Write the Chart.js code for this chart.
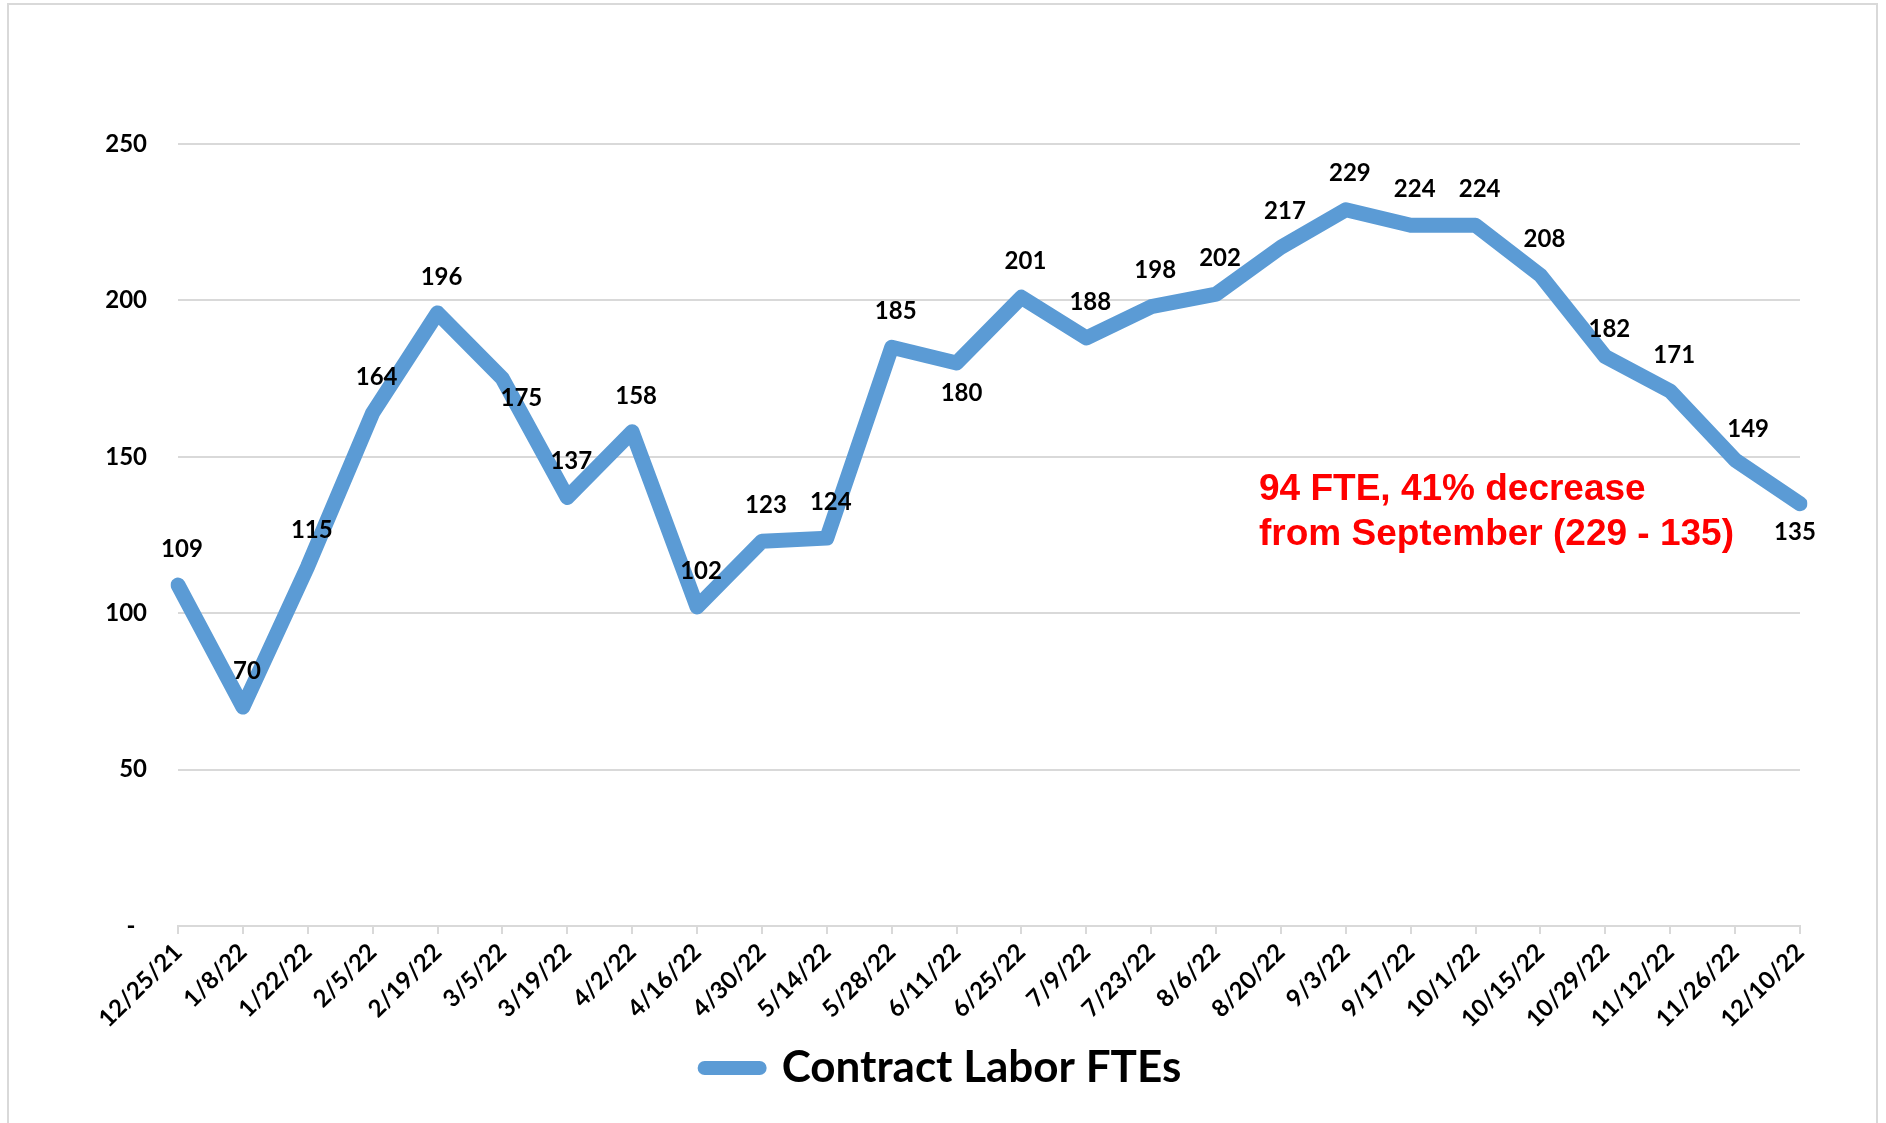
<!DOCTYPE html>
<html>
<head>
<meta charset="utf-8">
<script src="https://cdn.jsdelivr.net/npm/chart.js@4.4.1/dist/chart.umd.min.js"></script>
<style>
  html, body { margin: 0; padding: 0; background: #fff; }
  #wrap { position: relative; width: 1886px; height: 1123px; overflow: hidden; }
  #frame { position: absolute; left: 7px; top: 3px; width: 1871px; height: 1130px; border: 2px solid #d9d9d9; box-sizing: border-box; pointer-events: none; }
  canvas { position: absolute; left: 0; top: 0; }
</style>
</head>
<body>
<div id="wrap">
  <canvas id="chart" width="1886" height="1123"></canvas>
  <div id="frame"></div>
</div>
<script>
// Data
const weeks = ['12/25/21', '1/8/22', '1/22/22', '2/5/22', '2/19/22', '3/5/22', '3/19/22', '4/2/22', '4/16/22',
    '4/30/22', '5/14/22', '5/28/22', '6/11/22', '6/25/22', '7/9/22', '7/23/22', '8/6/22', '8/20/22', '9/3/22',
    '9/17/22', '10/1/22', '10/15/22', '10/29/22', '11/12/22', '11/26/22', '12/10/22'];
const contractFtes = [109, 70, 115, 164, 196, 175, 137, 158, 102, 123, 124, 185, 180, 201, 188, 198, 202, 217, 229,
    224, 224, 208, 182, 171, 149, 135];
const yTicks = [0, 50, 100, 150, 200, 250];
const seriesName = 'Contract Labor FTEs';
const noteLines = ['94 FTE, 41% decrease', 'from September (229 - 135)'];

// where each value label sits relative to its point
// a = above, b = below, r = right/below, n = nudged (10/29), s = shifted right (11/26), e = end
const labelSpots = ['a', 'a', 'a', 'a', 'a', 'r', 'a', 'a', 'a', 'a', 'a', 'a', 'b', 'a', 'a', 'a', 'a', 'a', 'a',
    'a', 'a', 'a', 'n', 'a', 's', 'e'];
const spotOffsets = { a: [4, -36], b: [5, 30], r: [19, 20], n: [4, -27], s: [13, -31], e: [-5, 29] };

const BLUE = '#5b9bd5';
const GRID = '#d9d9d9';
const FONT = 'Lato, "Open Sans", sans-serif';

const valueLabels = {
    id: 'valueLabels',
    afterDatasetsDraw(chart) {
        const { ctx } = chart;
        const meta = chart.getDatasetMeta(0);
        ctx.save();
        ctx.font = 'bold 24px ' + FONT;
        ctx.fillStyle = '#000';
        ctx.textAlign = 'center';
        ctx.textBaseline = 'middle';
        meta.data.forEach((pt, i) => {
            const off = spotOffsets[labelSpots[i]];
            ctx.fillText(String(contractFtes[i]), pt.x + off[0], pt.y + off[1]);
        });
        ctx.restore();
    }
};

const noteText = {
    id: 'noteText',
    afterDatasetsDraw(chart) {
        const { ctx, chartArea } = chart;
        const y = chart.scales.y;
        ctx.save();
        ctx.font = 'bold 37px "Liberation Sans", Arial, sans-serif';
        ctx.fillStyle = '#ff0000';
        ctx.textAlign = 'left';
        ctx.textBaseline = 'middle';
        const left = chartArea.left + 1081;
        const top = y.getPixelForValue(139.5);
        ctx.fillText(noteLines[0], left, top);
        ctx.fillText(noteLines[1], left, top + 45);
        ctx.restore();
    }
};

new Chart(document.getElementById('chart').getContext('2d'), {
    type: 'line',
    data: {
        labels: weeks,
        datasets: [{
            label: seriesName,
            data: contractFtes,
            borderColor: BLUE,
            backgroundColor: BLUE,
            borderWidth: 15,
            borderCapStyle: 'round',
            borderJoinStyle: 'round',
            pointRadius: 0,
            pointHoverRadius: 0,
            tension: 0,
            fill: false
        }]
    },
    options: {
        responsive: false,
        animation: false,
        layout: { padding: { left: 0, right: 0, top: 144, bottom: 23 } },
        plugins: {
            tooltip: { enabled: false },
            legend: {
                position: 'bottom',
                labels: {
                    usePointStyle: true,
                    pointStyle: 'line',
                    pointStyleWidth: 55,
                    color: '#000',
                    padding: 10,
                    font: { family: FONT, size: 44, weight: 'bold' },
                    generateLabels(chart) {
                        const items = Chart.defaults.plugins.legend.labels.generateLabels(chart);
                        items.forEach(it => {
                            it.lineCap = 'round';
                            it.lineWidth = 14;
                            it.strokeStyle = BLUE;
                        });
                        return items;
                    }
                }
            }
        },
        scales: {
            x: {
                offset: false,
                grid: { drawOnChartArea: false, drawTicks: true, tickLength: 8, tickColor: GRID, lineWidth: 2 },
                border: { color: GRID, width: 2 },
                ticks: {
                    autoSkip: false,
                    maxRotation: 45,
                    minRotation: 45,
                    padding: 4,
                    color: '#000',
                    font: { family: FONT, size: 24, weight: 'bold' }
                },
                afterFit(axis) { axis.height = 110; }
            },
            y: {
                min: 0,
                max: 250,
                afterBuildTicks(axis) { axis.ticks = yTicks.map(v => ({ value: v })); },
                grid: { color: GRID, lineWidth: 2, drawTicks: false },
                border: { display: false },
                ticks: {
                    padding: 31,
                    color: '#000',
                    font: { family: FONT, size: 24, weight: 'bold' },
                    callback: (v) => v === 0 ? '-  ' : v
                },
                afterFit(axis) { axis.width = 178; }
            },
            // empty right-hand strip so the legend stays centred on the whole canvas
            spacer: {
                type: 'linear',
                position: 'right',
                grid: { drawOnChartArea: false, drawTicks: false },
                border: { display: false },
                ticks: { display: false },
                afterFit(axis) { axis.width = 86; }
            }
        }
    },
    plugins: [valueLabels, noteText]
});
</script>
</body>
</html>
